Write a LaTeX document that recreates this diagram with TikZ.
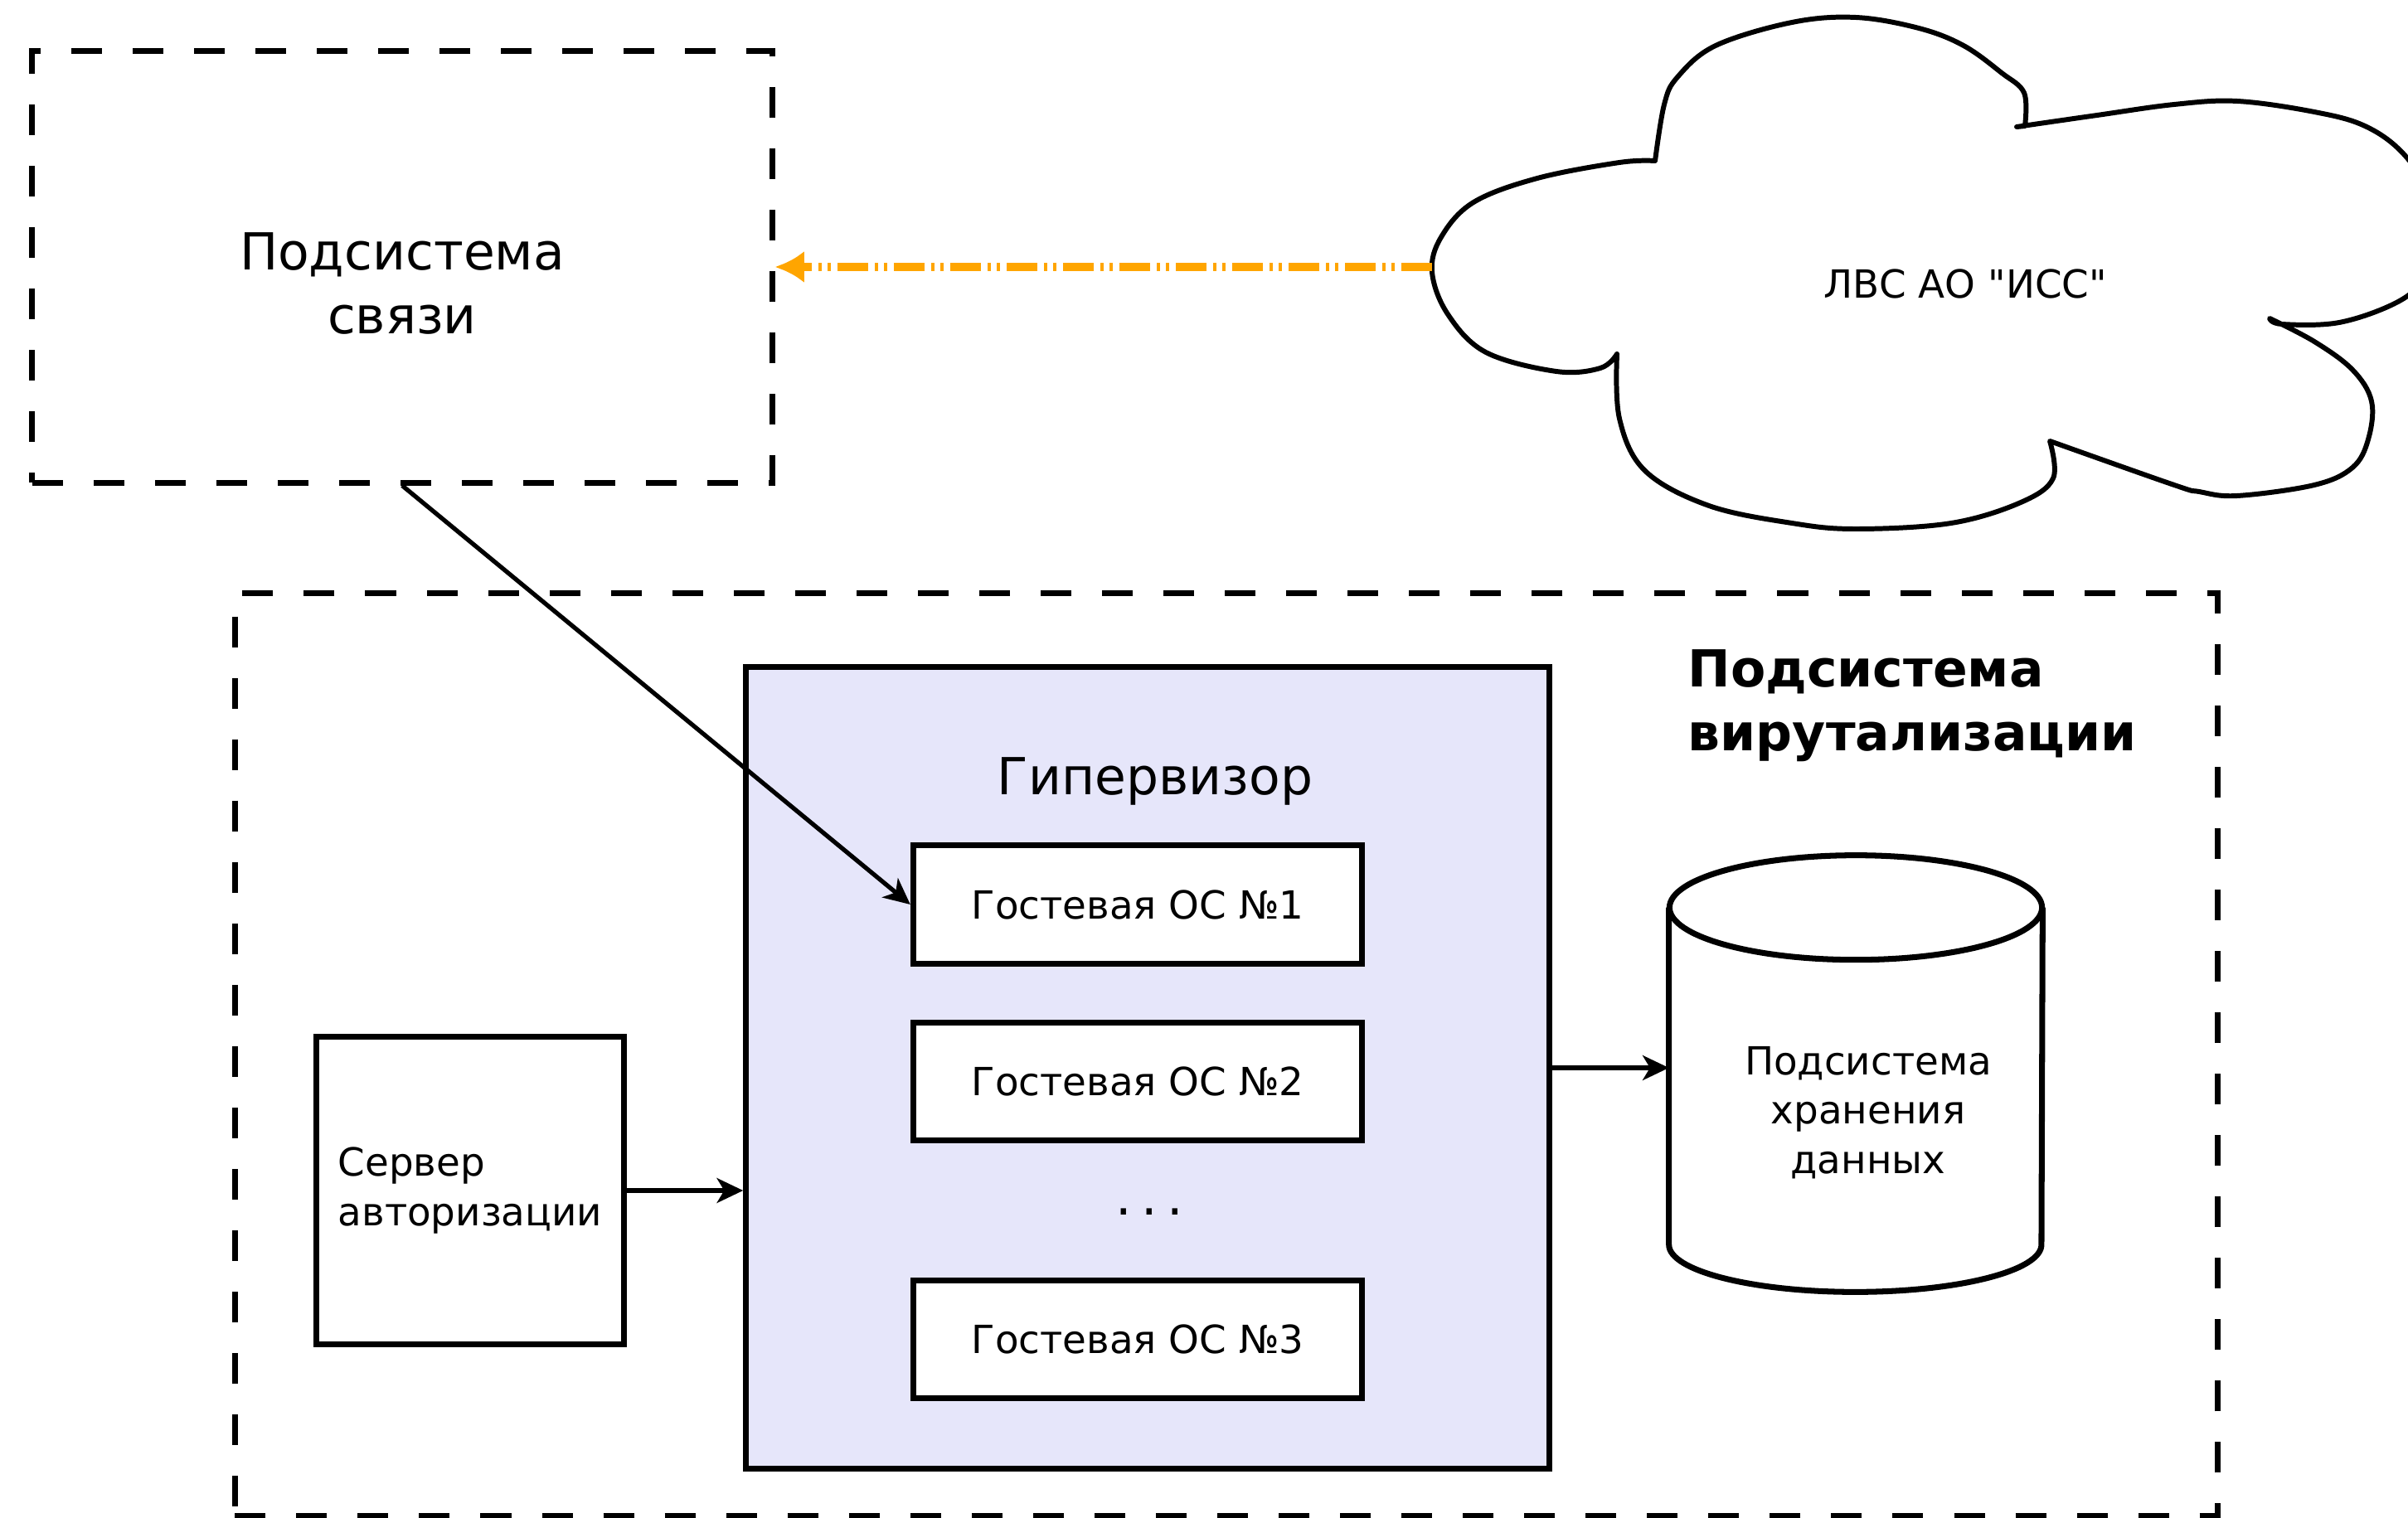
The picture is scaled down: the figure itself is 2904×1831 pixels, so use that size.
\documentclass[tikz,border=0pt]{standalone}
\usepackage{fontspec}
\setmainfont{DejaVu Sans}[Ligatures=TeXOff]
\usetikzlibrary{arrows.meta,positioning,calc}
\definecolor{hypfill}{RGB}{230,230,250}
\definecolor{lanorange}{RGB}{255,165,0}
\newcommand\sysfont{\fontsize{17.5pt}{21.9pt}\selectfont}
\newcommand\osfont{\fontsize{13.3pt}{17pt}\selectfont}

\begin{document}
\begin{tikzpicture}[x=0.01cm, y=-0.01cm,
	>={Stealth[length=9pt,width=8.5pt,inset=2.5pt]}]
	\tikzstyle{box}=[draw, line width=2pt, inner sep=0pt]
	\tikzstyle{subsys}=[box, dash pattern=on 0.37cm off 0.37cm]
	\tikzstyle{guest}=[box, fill=white, minimum width=5.41cm,
		minimum height=1.42cm, font=\osfont]
	\tikzstyle{conn}=[->, line width=1.5pt]
	\tikzstyle{lanlink}=[draw=lanorange, line width=2.6pt,
		dash pattern=on 0.37cm off 0.08cm on 0.04cm off 0.07cm on 0.04cm off 0.08cm,
		-{Latex[length=10pt,width=11pt]}]
	\tikzstyle{cloudline}=[line width=1.7pt, line join=round]
	\useasboundingbox (0,0) rectangle (2904,1831);
	% % Nodes
	% communication subsystem
	\node[subsys, minimum width=8.92cm, minimum height=5.2cm,
		  align=center, font=\sysfont, text height=1.62cm]
	(svyaz) at (485,322)
	{Подсистема\\связи};
	% LAN cloud
	\draw[cloudline]
		plot[smooth, tension=0.6] coordinates {(1996,194) (2007,126) (2023,93)
			(2069,55) (2161,27) (2238,21) (2314,34) (2368,55) (2414,88) (2441,112)
			(2442,152)}
		-- plot[smooth, tension=0.6] coordinates {(2432,153) (2529,139) (2622,126)
			(2698,122) (2791,135) (2852,152) (2898,185) (2935,240) (2945,290)
			(2925,335) (2890,365) (2821,389) (2752,391) (2737,384)}
		-- plot[smooth, tension=0.6] coordinates {(2737,384) (2791,412) (2837,446)
			(2860,484) (2856,530) (2837,564) (2791,585) (2698,598) (2652,593)
			(2622,585) (2472,532)}
		-- plot[smooth, tension=0.6] coordinates {(2472,532) (2476,577) (2437,606)
			(2353,631) (2238,638) (2161,631) (2061,610) (1984,568) (1953,505)
			(1950,427)}
		-- plot[smooth, tension=0.6] coordinates {(1950,427) (1930,444) (1877,448)
			(1792,425) (1746,379) (1727,328) (1738,286) (1777,244) (1854,215)
			(1953,196) (1996,194)}
		-- cycle;
	\node[font=\osfont] (lvs) at (2370,342) {ЛВС АО "ИСС"};
	\coordinate (lvsW) at (1727,322);
	% virtualisation subsystem
	\node[subsys, minimum width=23.9cm, minimum height=11.12cm]
	(virt) at (1479,1272) {};
	\node[anchor=north west, align=left, inner sep=0pt, font=\sysfont\bfseries]
	(virttitle) at (2035,783)
	{Подсистема\\вирутализации};
	% hypervisor
	\node[box, fill=hypfill, minimum width=9.68cm, minimum height=9.66cm]
	(hyp) at (1384,1288) {};
	\node[anchor=base, font=\sysfont] (hyptitle) at (1393,958) {Гипервизор};
	% guest systems
	\node[guest] (os1) at (1372,1091) {Гостевая ОС №1};
	\node[guest, below=0.64cm of os1] (os2) {Гостевая ОС №2};
	\node[guest, below=1.62cm of os2] (os3) {Гостевая ОС №3};
	\node[font=\sysfont] (dots) at (1386,1462) {.\kern3.2pt.\kern3.2pt.};
	% authorisation server
	\node[box, minimum size=3.71cm, align=left, font=\osfont]
	(srv) at (567,1436)
	{Сервер\\авторизации};
	% storage
	\node[minimum width=4.49cm, minimum height=4.05cm, inner sep=0pt]
	(store) at (2238,1298) {};
	\draw[line width=2pt] (store.north west) -- (store.south west)
		arc[start angle=180, end angle=360, x radius=2.245cm, y radius=0.57cm]
		-- (store.north east);
	\draw[line width=2pt] (store.north) ellipse[x radius=2.245cm, y radius=0.63cm];
	\node[align=center, font=\osfont] (storetext) at (2253,1342)
	{Подсистема\\хранения\\данных};
	% % Connectors
	\draw[lanlink] (lvsW) -- (svyaz.east);
	\draw[conn] (svyaz.south) -- (os1.west);
	\draw[conn] (srv.east) -- (srv.east -| hyp.west);
	\draw[conn] (hyp.east) -- (hyp.east -| store.west);
\end{tikzpicture}
\end{document}
